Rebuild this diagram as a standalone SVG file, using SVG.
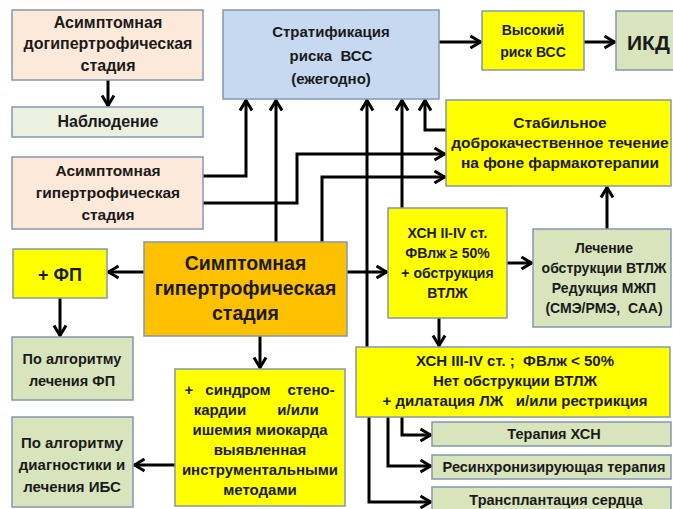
<svg xmlns="http://www.w3.org/2000/svg" width="673" height="509" viewBox="0 0 673 509">
<defs>
<marker id="ah" markerUnits="userSpaceOnUse" viewBox="0 0 14 16" markerWidth="14" markerHeight="16" refX="12.5" refY="8" orient="auto">
<path d="M2,2 L12,8 L2,14" fill="none" stroke="#000" stroke-width="3" stroke-linejoin="miter"/>
</marker>
</defs>
<style>
rect{stroke:#8497B0;stroke-width:1.5}
.pe{fill:#FDE9D9}
.lg{fill:#EBF1DE}
.gg{fill:#D8E4BC}
.bl{fill:#C6D9F1}
.ye{fill:#FFFF00}
.or{fill:#FFC000}
text{font-family:"Liberation Sans",Arial,sans-serif;font-weight:bold;font-size:15px;fill:#1a1a1a;text-anchor:middle}
.pre{white-space:pre}
.s14 text{font-size:14px}
.s145 text{font-size:14.5px}
.s155 text{font-size:15.5px}
.s16 text{font-size:16px}
.c path{fill:none;stroke:#000;stroke-width:3;marker-end:url(#ah)}
</style>
<rect width="673" height="509" fill="#fff" style="stroke:none"/>

<g class="c" id="connectors">
<path d="M108,80 V106"/>
<path d="M439,42 H481"/>
<path d="M584,42 H615"/>
<path d="M203,176 H246 V100"/>
<path d="M203,203 H297 V154 H445"/>
<path d="M276,242 V100"/>
<path d="M322,242 V177 H445"/>
<path d="M446,130 H425 V100"/>
<path d="M402,208 V100"/>
<path d="M367,347 V100"/>
<path d="M369,417 V502 H431"/>
<path d="M402,417 V435 H431"/>
<path d="M388,417 V466 H431"/>
<path d="M347,272 H387"/>
<path d="M507,263 H532"/>
<path d="M607,229 V187"/>
<path d="M439,318 V346"/>
<path d="M144,272 H108"/>
<path d="M60,298 V336"/>
<path d="M260,336 V368"/>
<path d="M175,465 H134"/>
</g>

<g id="n-asym-pre" class="s16">
<rect class="pe" x="12" y="10" width="191" height="70"/>
<text x="108" y="28">Асимптомная</text>
<text x="108" y="49">догипертрофическая</text>
<text x="108" y="71">стадия</text>
</g>
<g id="n-nabl" class="s16">
<rect class="lg" x="12" y="107" width="191" height="30"/>
<text x="108" y="127">Наблюдение</text>
</g>
<g id="n-strat">
<rect class="bl" x="223" y="10" width="216" height="89"/>
<text x="331" y="37">Стратификация</text>
<text x="331" y="61" class="pre">риска  ВСС</text>
<text x="331" y="84">(ежегодно)</text>
</g>
<g id="n-high" class="s14">
<rect class="ye" x="482" y="11" width="102" height="59"/>
<text x="533" y="35">Высокий</text>
<text x="533" y="57">риск ВСС</text>
</g>
<g id="n-ikd">
<rect class="gg" x="616" y="11" width="62" height="59"/>
<text x="627" y="50" style="text-anchor:start;font-size:21px">ИКД</text>
</g>
<g id="n-stab" class="s155">
<rect class="ye" x="446" y="100" width="225" height="86"/>
<text x="560" y="128">Стабильное</text>
<text x="560" y="148">доброкачественное течение</text>
<text x="560" y="168">на фоне фармакотерапии</text>
</g>
<g id="n-asym-hyp" class="s155">
<rect class="pe" x="12" y="157" width="191" height="72"/>
<text x="108" y="176">Асимптомная</text>
<text x="108" y="198">гипертрофическая</text>
<text x="108" y="220">стадия</text>
</g>
<g id="n-sympt">
<rect class="or" x="144" y="242" width="203" height="94"/>
<text x="245.5" y="270" style="font-size:19.5px">Симптомная</text>
<text x="245.5" y="295" style="font-size:19.5px">гипертрофическая</text>
<text x="245.5" y="320" style="font-size:19.5px">стадия</text>
</g>
<g id="n-fp">
<rect class="ye" x="13" y="249" width="94" height="49"/>
<text x="60" y="281" style="font-size:18px">+ ФП</text>
</g>
<g id="n-alg-fp" class="s145">
<rect class="gg" x="12" y="337" width="121" height="63"/>
<text x="72" y="364">По алгоритму</text>
<text x="72" y="386">лечения ФП</text>
</g>
<g id="n-hsn2" class="s14">
<rect class="ye" x="388" y="208" width="119" height="110"/>
<text x="447.5" y="238">ХСН II-IV ст.</text>
<text x="447.5" y="258">ФВлж ≥ 50%</text>
<text x="447.5" y="278">+ обструкция</text>
<text x="447.5" y="298">ВТЛЖ</text>
</g>
<g id="n-lech" class="s14">
<rect class="gg" x="533" y="229" width="138" height="98"/>
<text x="604" y="253">Лечение</text>
<text x="604" y="273">обструкции ВТЛЖ</text>
<text x="604" y="293">Редукция МЖП</text>
<text x="604" y="313" class="pre">(СМЭ/РМЭ,  САА)</text>
</g>
<g id="n-hsn3">
<rect class="ye" x="356" y="347" width="314" height="70"/>
<text x="515" y="366" class="pre">ХСН III-IV ст. ;  ФВлж &lt; 50%</text>
<text x="515" y="386">Нет обструкции ВТЛЖ</text>
<text x="515" y="406" class="pre">+ дилатация ЛЖ   и/или рестрикция</text>
</g>
<g id="n-ter" class="s145">
<rect class="gg" x="432" y="422" width="239" height="24"/>
<text x="554" y="439">Терапия ХСН</text>
</g>
<g id="n-res" class="s145">
<rect class="gg" x="432" y="455" width="239" height="24"/>
<text x="554" y="472">Ресинхронизирующая терапия</text>
</g>
<g id="n-trans" class="s145">
<rect class="gg" x="432" y="487" width="239" height="30"/>
<text x="556" y="505">Трансплантация сердца</text>
</g>
<g id="n-sind">
<rect class="ye" x="175" y="369" width="170" height="137"/>
<text y="395"><tspan x="189">+</tspan><tspan x="238">синдром</tspan><tspan x="311">стено-</tspan></text>
<text y="415"><tspan x="220">кардии</tspan><tspan x="298">и/или</tspan></text>
<text x="260" y="435">ишемия миокарда</text>
<text x="260" y="455">выявленная</text>
<text x="260" y="475">инструментальными</text>
<text x="260" y="495">методами</text>
</g>
<g id="n-ibs">
<rect class="gg" x="12" y="417" width="121" height="90"/>
<text x="72" y="448">По алгоритму</text>
<text x="72" y="470">диагностики и</text>
<text x="72" y="492">лечения ИБС</text>
</g>
</svg>
